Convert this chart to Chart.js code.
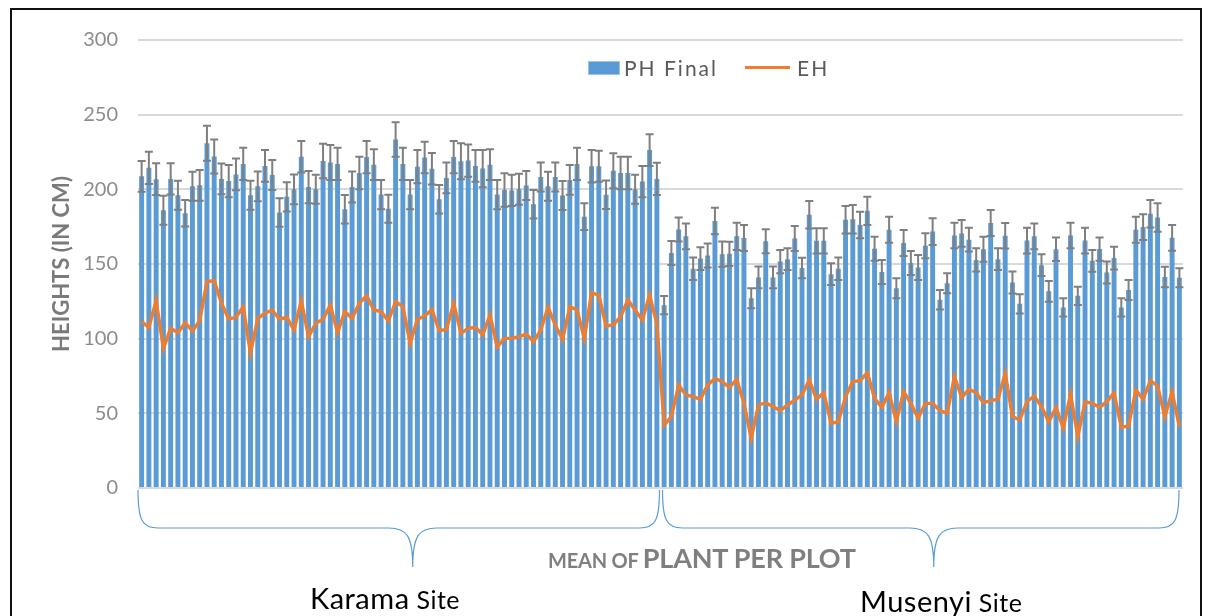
<!DOCTYPE html>
<html>
<head>
<meta charset="utf-8">
<script src="https://cdn.jsdelivr.net/npm/chart.js@4.4.1/dist/chart.umd.min.js"></script>
<style>
  body { margin: 0; background: #fff; }
  #wrap { position: relative; width: 1208px; height: 616px; overflow: hidden; background: #fff; }
  #c { position: absolute; left: 0; top: 0; }
  .frame { position: absolute; left: 10px; top: 8px; width: 1192px; height: 700px; border: 2px solid #111; box-sizing: border-box; pointer-events: none; }
  .txt { position: absolute; white-space: nowrap; font-family: Lato, "Open Sans", sans-serif; line-height: 1; }
</style>
</head>
<body>
<div id="wrap">
  <canvas id="c" width="1208" height="616"></canvas>
  <div class="frame"></div>

  <!-- legend -->
  <div class="txt" style="left:588px;top:61px;width:32px;height:14px;background:#5b9bd5;border:1px solid #9dc3e6;box-sizing:border-box"></div>
  <div class="txt" style="left:624px;top:57px;font-size:21px;letter-spacing:2px;color:#595959">PH Final</div>
  <div class="txt" style="left:745px;top:66px;width:45px;height:3px;background:#ed7d31"></div>
  <div class="txt" style="left:797px;top:57px;font-size:21px;letter-spacing:2px;color:#595959">EH</div>

  <!-- x axis texts -->
  <div class="txt" style="left:548px;top:544px;color:#7f7f7f;font-weight:bold;letter-spacing:-0.2px">
    <span style="font-size:20px">MEAN OF </span><span style="font-size:27px">PLANT PER PLOT</span>
  </div>
  <div class="txt" style="left:310px;top:583px;color:#000"><span style="font-size:29px;letter-spacing:0.5px">Karama</span><span style="font-size:25px;letter-spacing:0.5px"> Site</span></div>
  <div class="txt" style="left:860px;top:586px;color:#000"><span style="font-size:29px;letter-spacing:0.5px">Musenyi</span><span style="font-size:25px;letter-spacing:0.5px"> Site</span></div>
</div>

<script>
// plant height (PH Final) per plot, Karama site
var karamaPH = [208.7, 214.4, 206.8, 186, 207, 196, 184, 202, 202.7, 230.8,
  222, 207, 205.5, 210, 217, 196, 202, 215.7, 209.6, 184.5,
  195, 200, 221.8, 201.5, 200, 219, 218, 217, 186.7, 201.5,
  211, 221.6, 216.5, 196.5, 187, 233.4, 217, 196.5, 215.2, 221.3,
  213.8, 193.4, 207.6, 221.6, 218.8, 219.3, 215.7, 213.9, 216.5, 196.5,
  199.6, 199.3, 200, 202.6, 190, 208.2, 202, 208.2, 195.9, 206.3,
  217, 181.7, 215.4, 215.5, 196.4, 212.4, 211, 211, 200, 205.2,
  226.3, 207];
var karamaErr = [10.3, 10.8, 10.6, 9.7, 10.4, 9.7, 8.9, 9.7, 10.3, 11.7,
  11.4, 10.3, 10.8, 10.6, 10.8, 9.7, 9.9, 10.6, 10, 9.5,
  9.8, 10, 10.6, 10.8, 9.7, 11.5, 11.7, 10.8, 9.5, 10.4,
  10.9, 10.8, 10.3, 9.8, 9.3, 11.5, 10.8, 9.8, 11.2, 10.6,
  10.6, 9.5, 10.3, 10.8, 12, 10.8, 10.6, 12.5, 10.3, 9.8,
  11.2, 10.4, 10.4, 9.7, 9.5, 9.7, 9.7, 9.7, 9.7, 10,
  10.8, 8.9, 10.9, 10.4, 9.5, 11.7, 10.9, 10.9, 9.7, 10.5,
  10.6, 10.8];
// ear height (EH), Karama site
var karamaEH = [111.4, 107.6, 125.4, 93.5, 106.9, 104, 110.7, 105.1, 112, 138.2,
  138.8, 123.7, 113.2, 114.3, 121.4, 90.2, 113.6, 117, 119.2, 113,
  114.3, 105.8, 125.4, 101.3, 110.3, 113, 122.5, 104, 118.1, 113.6,
  123.7, 128.8, 119.2, 118.1, 112, 124.8, 121.4, 96.9, 113, 115.2,
  119.6, 105.4, 106.2, 123.7, 103.6, 106.9, 107.6, 102.5, 115.9, 94.6,
  100.2, 100.2, 101.3, 103.1, 98, 105.8, 121, 109.2, 99.5, 121.4,
  119.2, 100.2, 130.8, 129.2, 108.5, 109.2, 114.7, 125.9, 119.2, 112.5,
  129.2, 110];

// Musenyi site
var musenyiPH = [122.4, 157.4, 173.1, 168.5, 146.8, 153.6, 155.7, 178.8, 156.6, 156.8,
  168.5, 167.4, 127, 141, 165.2, 141, 151.6, 153.2, 167.1, 147.3,
  183, 165.5, 165.5, 143.2, 146.8, 179.7, 180, 176.1, 185.6, 160.2,
  144.6, 173, 133.7, 164.1, 150.7, 147.7, 162.2, 171.7, 126.1, 137.1,
  169.1, 170.5, 166.3, 152.7, 159.9, 177.5, 153.2, 168.9, 137.6, 123.3,
  165.7, 168.5, 149.2, 131.7, 159.9, 120.9, 169.1, 128.7, 165.7, 152.1,
  160, 144.3, 154, 120.9, 132.6, 173, 174.7, 183.7, 181.1, 141.3,
  167.5, 140.8];
var musenyiErr = [6.1, 8, 8.1, 8.7, 7.5, 7.6, 8.1, 8.9, 8.4, 8.1,
  9.2, 8.7, 6.7, 7.3, 8, 7.3, 7.8, 7.3, 8.4, 6.9,
  9.2, 8.4, 8.4, 7.3, 7.5, 9.2, 9.5, 8.9, 9.5, 8.1,
  8, 8.7, 6.7, 8.7, 8, 8.4, 8.4, 8.9, 6.5, 6.7,
  8.6, 8.9, 8, 7.8, 8.4, 8.7, 7.3, 8.6, 7.3, 6.4,
  8.6, 8.7, 7.3, 6.9, 7.9, 6.1, 8.6, 6.1, 8.6, 7.3,
  7.8, 7.3, 7.6, 6.1, 6.7, 8.7, 8.6, 9.2, 9.5, 6.9,
  8.6, 6.4];
var musenyiEH = [42.2, 47.8, 69, 62.3, 61.2, 59.4, 69, 73.4, 71.2, 67.4,
  72.8, 56.7, 33.3, 55.6, 57.1, 54.5, 51.8, 55.6, 58.9, 62.3,
  72.3, 59.4, 63.8, 43.3, 44.4, 61.2, 71.2, 71.9, 77.2, 60,
  54, 63.8, 44.4, 64.5, 56.7, 46.7, 56.7, 56.7, 51.8, 50,
  74.6, 60.7, 66.1, 63.8, 57.1, 58.5, 59.4, 76.8, 47.8, 45.5,
  57.8, 61.6, 54.5, 44.4, 54, 40, 62.9, 34.4, 57.8, 56.7,
  54, 57.8, 63.8, 40.6, 41.5, 65.6, 59.4, 71.9, 68.3, 47.8,
  64.5, 41];

var yTicks = [0, 50, 100, 150, 200, 250, 300];

var phFinal = karamaPH.concat(musenyiPH);
var phErr = karamaErr.concat(musenyiErr);
var eh = karamaEH.concat(musenyiEH);
var labels = [];
for (var i = 0; i < phFinal.length; i++) {
  labels.push(i < karamaPH.length ? 'K' + (i + 1) : 'M' + (i - karamaPH.length + 1));
}

// error bars on the PH bars
var errorBars = {
  id: 'errorBars',
  afterDatasetsDraw: function(chart) {
    var ctx = chart.ctx;
    var y = chart.scales.y;
    var meta = chart.getDatasetMeta(1);
    ctx.save();
    ctx.strokeStyle = '#7f7f7f';
    ctx.lineWidth = 2;
    ctx.beginPath();
    meta.data.forEach(function(bar, i) {
      var top = y.getPixelForValue(phFinal[i] + phErr[i]);
      var bot = y.getPixelForValue(phFinal[i] - phErr[i]);
      ctx.moveTo(bar.x, top); ctx.lineTo(bar.x, bot);
      ctx.moveTo(bar.x - 4, top); ctx.lineTo(bar.x + 4, top);
      ctx.moveTo(bar.x - 4, bot); ctx.lineTo(bar.x + 4, bot);
    });
    ctx.stroke();
    ctx.restore();
  }
};

// the two curly braces under the sites
function brace(ctx, x0, x1, tip) {
  var yt = 490, yh = 528, yp = 567;
  ctx.moveTo(x0, yt);
  ctx.bezierCurveTo(x0, yt + 30, x0 + 4, yh, x0 + 20, yh);
  ctx.lineTo(tip - 24, yh);
  ctx.bezierCurveTo(tip - 6, yh, tip, yh + 8, tip, yp);
  ctx.bezierCurveTo(tip, yh + 8, tip + 6, yh, tip + 24, yh);
  ctx.lineTo(x1 - 20, yh);
  ctx.bezierCurveTo(x1 - 4, yh, x1, yt + 30, x1, yt);
}
var braces = {
  id: 'braces',
  afterDraw: function(chart) {
    var ctx = chart.ctx;
    var x = chart.scales.x;
    var hw = (x.getPixelForValue(1) - x.getPixelForValue(0)) / 2;
    var n = karamaPH.length, last = phFinal.length - 1;
    var a0 = x.getPixelForValue(0) - hw, a1 = x.getPixelForValue(n - 1) + hw - 1;
    var b0 = x.getPixelForValue(n) - hw + 2, b1 = x.getPixelForValue(last) + hw - 4;
    ctx.save();
    ctx.strokeStyle = '#5b9bd5';
    ctx.lineWidth = 1.2;
    ctx.beginPath();
    brace(ctx, a0, a1, (a0 + a1) / 2 + 14);
    brace(ctx, b0, b1, (b0 + b1) / 2 + 13);
    ctx.stroke();
    ctx.restore();
  }
};

var config = {
  type: 'bar',
  data: {
    labels: labels,
    datasets: [{
      type: 'line',
      label: 'EH',
      data: eh,
      borderColor: '#ed7d31',
      borderWidth: 3.4,
      pointRadius: 0,
      tension: 0,
      order: 0
    }, {
      label: 'PH Final',
      data: phFinal,
      backgroundColor: '#5b9bd5',
      barPercentage: 0.68,
      categoryPercentage: 1,
      order: 1
    }]
  },
  options: {
    responsive: false,
    animation: false,
    layout: { padding: { left: 45, right: 25, top: 40, bottom: 128 } },
    plugins: { legend: { display: false }, tooltip: { enabled: false } },
    scales: {
      x: { display: false },
      y: {
        min: 0,
        max: 300,
        afterBuildTicks: function(s) { s.ticks = yTicks.map(function(v) { return { value: v }; }); },
        afterFit: function(s) { s.width = 93; },
        ticks: { color: '#8c8c8c', font: { family: 'Lato', size: 20 }, padding: 20 },
        grid: { color: '#d9d9d9', lineWidth: 2, drawTicks: false },
        border: { display: false },
        title: {
          display: true,
          text: 'HEIGHTS (IN CM)',
          color: '#7a7a7a',
          font: { family: 'Lato', size: 22, weight: 'bold' }
        }
      }
    }
  },
  plugins: [errorBars, braces]
};

window.onload = function() {
  var ctx = document.getElementById('c').getContext('2d');
  window.myChart = new Chart(ctx, config);
};
</script>
</body>
</html>
